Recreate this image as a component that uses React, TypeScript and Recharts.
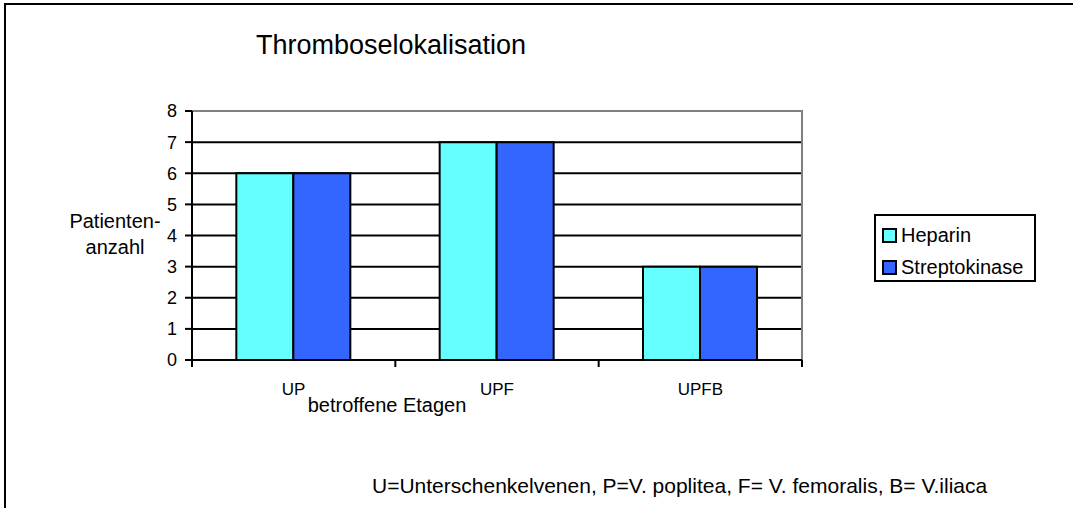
import { BarChart, Bar, XAxis, YAxis, CartesianGrid, ReferenceArea, Legend } from 'recharts';

const categories = ['UP', 'UPF', 'UPFB'];
const heparin = [6, 7, 3];
const streptokinase = [6, 7, 3];
const yTicks = [0, 1, 2, 3, 4, 5, 6, 7, 8];
const gridValues = [1, 2, 3, 4, 5, 6, 7];

const SERIES = [
  { key: 'heparin', name: 'Heparin', color: '#66FFFF' },
  { key: 'streptokinase', name: 'Streptokinase', color: '#3366FF' },
];

const FONT = "'Liberation Sans', Arial, sans-serif";
const CHART_W = 1073;
const CHART_H = 508;
const MARGIN = { top: 111, right: 271, bottom: 0, left: 0 };
const Y_AXIS_W = 192;
const X_AXIS_H = 148;
const BAND = (CHART_W - MARGIN.left - MARGIN.right - Y_AXIS_W) / categories.length;

const data = categories.map((c, i) => ({
  name: c,
  heparin: heparin[i],
  streptokinase: streptokinase[i],
}));

function CategoryTick(props: any) {
  const { x, y, payload, index } = props;
  return (
    <g>
      <line x1={x - BAND / 2} y1={y} x2={x - BAND / 2} y2={y + 7} stroke="#000" strokeWidth={2} />
      {index === categories.length - 1 && (
        <line x1={x + BAND / 2} y1={y} x2={x + BAND / 2} y2={y + 7} stroke="#000" strokeWidth={2} />
      )}
      <text x={x} y={y + 35} textAnchor="middle" fontSize={17} fill="#000" fontFamily={FONT}>
        {payload.value}
      </text>
    </g>
  );
}

function LegendBox() {
  return (
    <div
      style={{
        width: 158,
        height: 64,
        border: '2px solid #000',
        background: '#fff',
        fontFamily: FONT,
        fontSize: 20,
        color: '#000',
        position: 'relative',
      }}
    >
      {SERIES.map((s, i) => (
        <div key={s.key} style={{ position: 'absolute', left: 6, top: 9 + i * 32, height: 20, display: 'flex', alignItems: 'center' }}>
          <span
            style={{
              display: 'inline-block',
              width: 11,
              height: 11,
              border: '2px solid #000',
              background: s.color,
              marginRight: 4,
            }}
          />
          <span style={{ lineHeight: '20px' }}>{s.name}</span>
        </div>
      ))}
    </div>
  );
}

export default function App() {
  return (
    <div
      style={{
        position: 'fixed',
        left: 0,
        top: 0,
        width: CHART_W,
        height: CHART_H,
        overflow: 'hidden',
        background: '#fff',
        fontFamily: FONT,
        color: '#000',
      }}
    >
      <div
        style={{
          position: 'absolute',
          left: 4,
          top: 3,
          width: CHART_W + 20,
          height: CHART_H + 20,
          border: '2px solid #000',
          boxSizing: 'border-box',
        }}
      />
      <div style={{ position: 'absolute', left: 191, top: 32, width: 400, textAlign: 'center', fontSize: 27, lineHeight: '27px' }}>
        Thromboselokalisation
      </div>
      <div style={{ position: 'absolute', left: 45, top: 211, width: 140, textAlign: 'center', fontSize: 20, lineHeight: '20px' }}>
        Patienten-
      </div>
      <div style={{ position: 'absolute', left: 45, top: 237, width: 140, textAlign: 'center', fontSize: 20, lineHeight: '20px' }}>
        anzahl
      </div>
      <div style={{ position: 'absolute', left: 287, top: 395, width: 200, textAlign: 'center', fontSize: 20, lineHeight: '20px' }}>
        betroffene Etagen
      </div>
      <div style={{ position: 'absolute', left: 372, top: 475, whiteSpace: 'nowrap', fontSize: 21, lineHeight: '21px' }}>
        U=Unterschenkelvenen, P=V. poplitea, F= V. femoralis, B= V.iliaca
      </div>
      <div style={{ position: 'absolute', left: 0, top: 0 }}>
        <BarChart
          width={CHART_W}
          height={CHART_H}
          data={data}
          margin={MARGIN}
          barCategoryGap="21.8%"
          barGap={0}
        >
          <CartesianGrid horizontal vertical={false} horizontalValues={gridValues} stroke="#000" strokeWidth={2} />
          <ReferenceArea y1={0} y2={8} fill="none" stroke="#808080" strokeWidth={2} />
          <XAxis
            dataKey="name"
            height={X_AXIS_H}
            tickLine={false}
            tickSize={0}
            tickMargin={0}
            axisLine={{ stroke: '#000', strokeWidth: 2 }}
            tick={<CategoryTick />}
            interval={0}
          />
          <YAxis
            width={Y_AXIS_W}
            domain={[0, 8]}
            ticks={yTicks}
            interval={0}
            tickSize={7}
            tickMargin={8}
            tickLine={{ stroke: '#000', strokeWidth: 2 }}
            axisLine={{ stroke: '#000', strokeWidth: 2 }}
            tick={{ fill: '#000', fontSize: 18, fontFamily: FONT }}
          />
          <Legend
            layout="vertical"
            align="center"
            verticalAlign="middle"
            wrapperStyle={{ left: 874, top: 214, width: 162, height: 68 }}
            content={<LegendBox />}
          />
          {SERIES.map((s) => (
            <Bar
              key={s.key}
              dataKey={s.key}
              name={s.name}
              fill={s.color}
              stroke="#000"
              strokeWidth={2}
              isAnimationActive={false}
            />
          ))}
        </BarChart>
      </div>
    </div>
  );
}
